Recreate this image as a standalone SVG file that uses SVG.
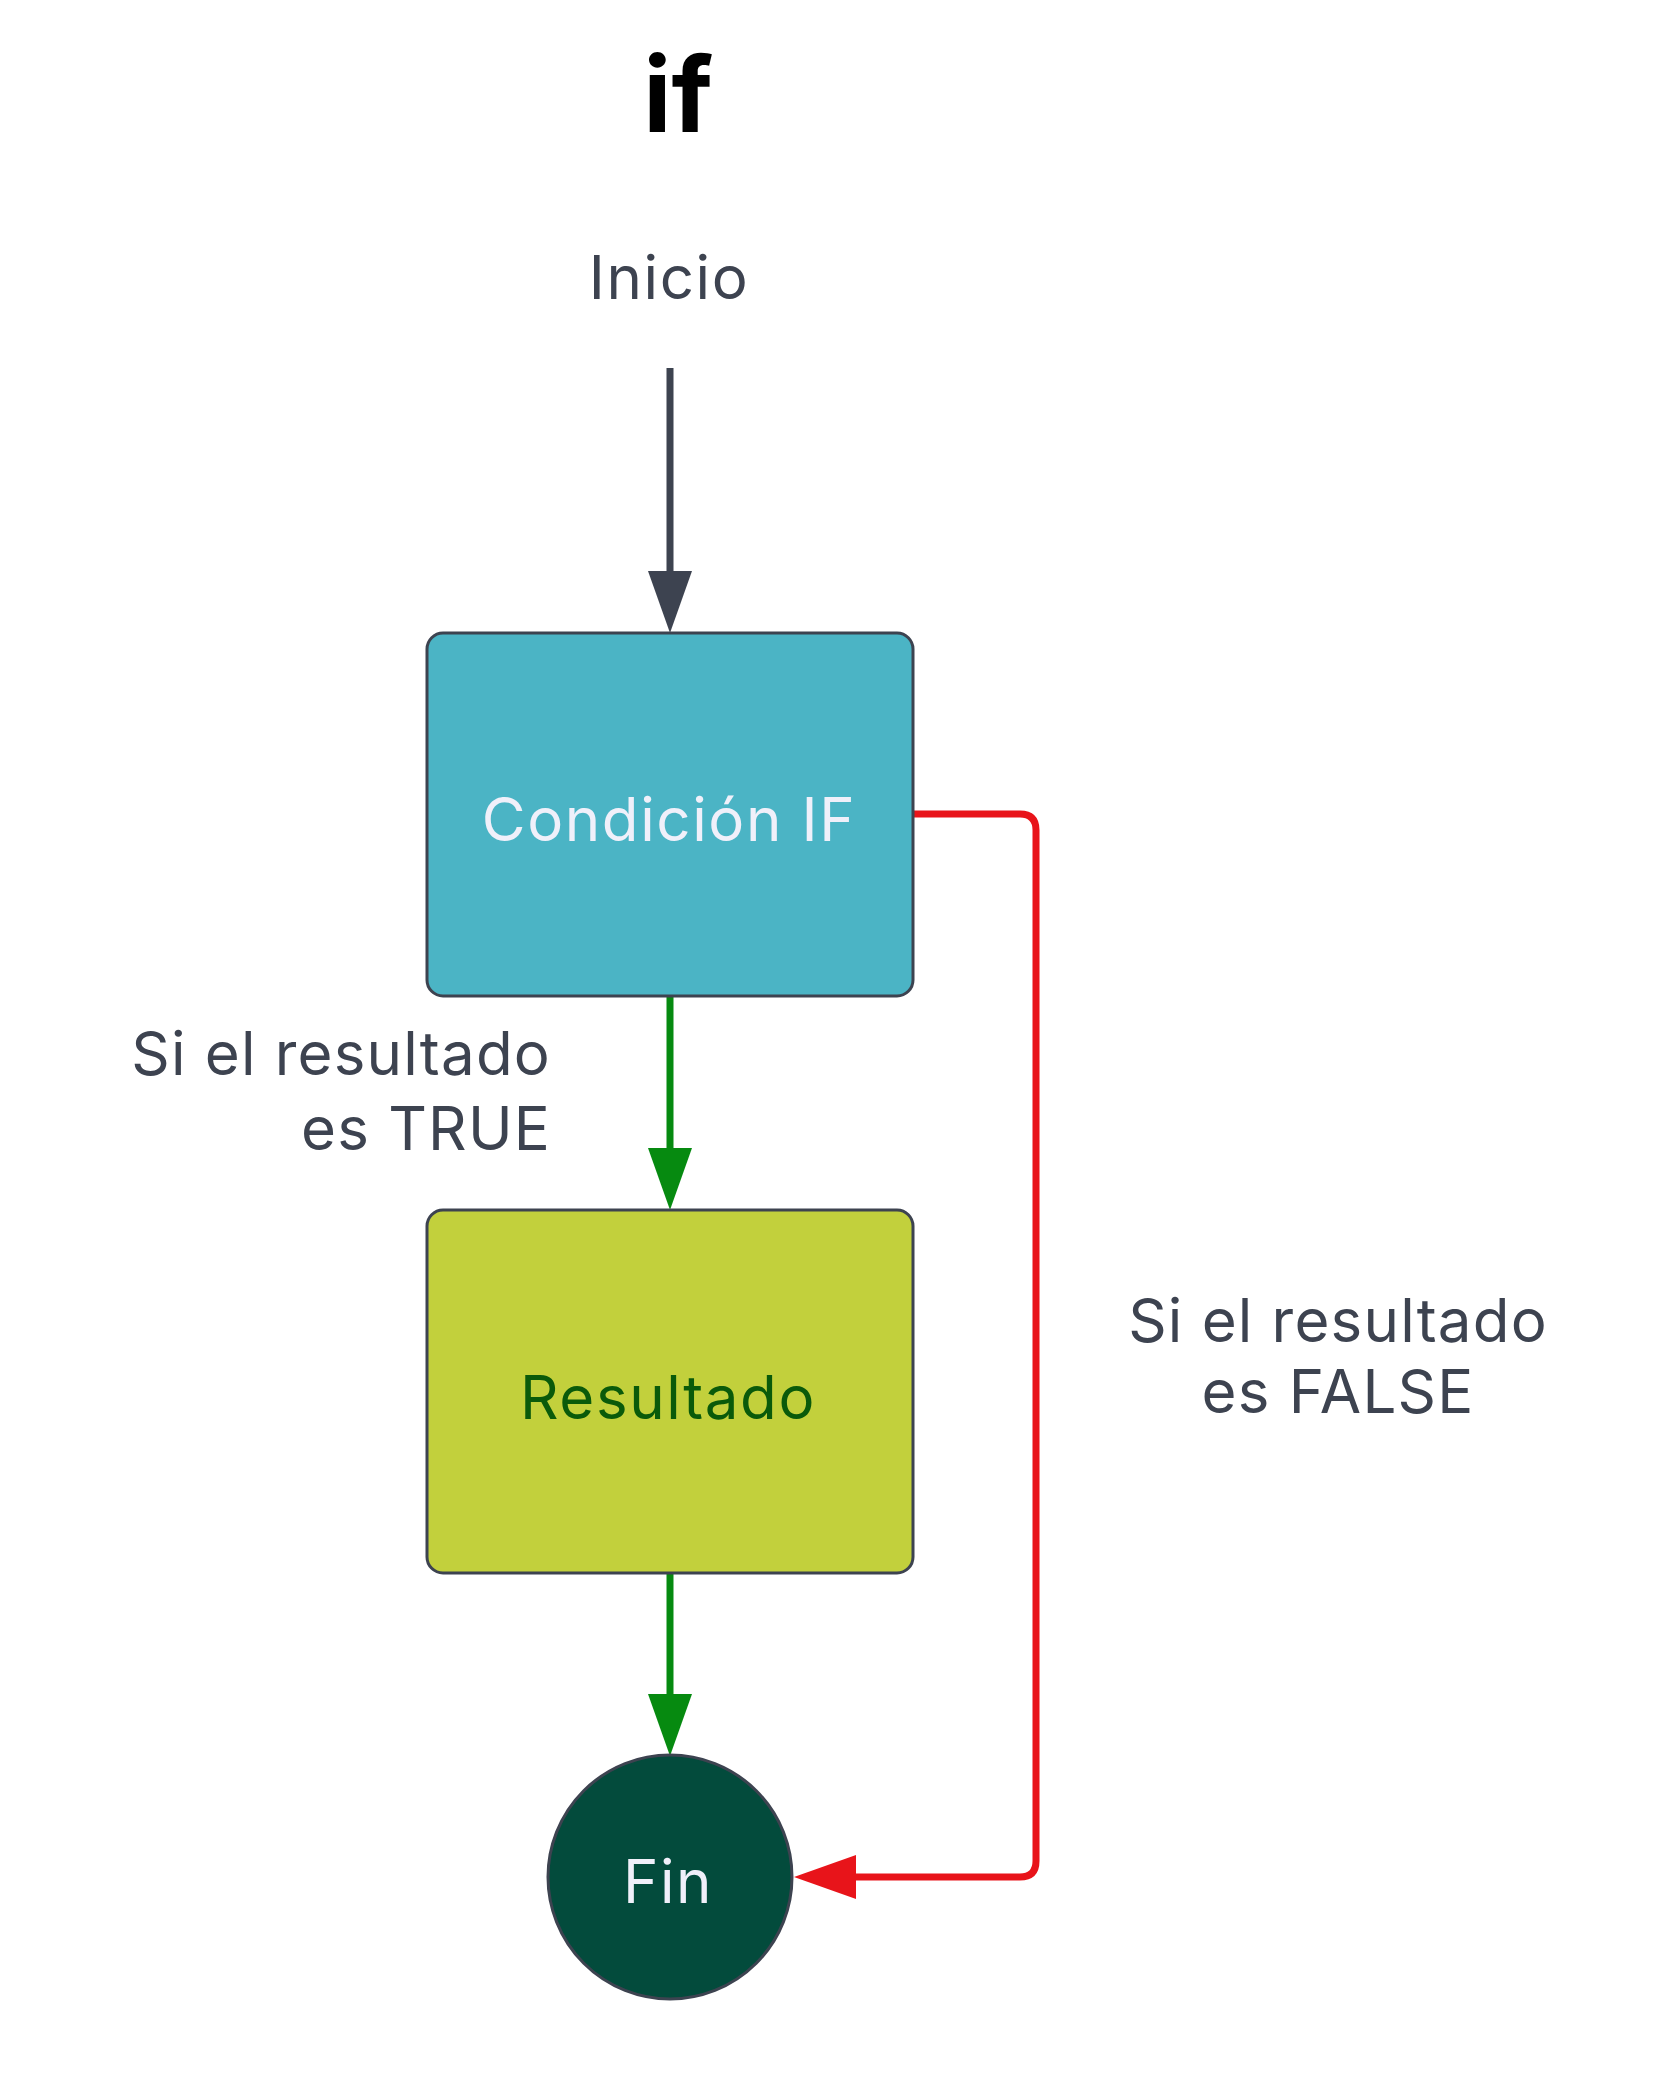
<svg xmlns="http://www.w3.org/2000/svg" width="1654" height="2085" viewBox="0 0 1654 2085">
  <style>
    .lbl { font-family: Inter, "Noto Sans", "Liberation Sans", sans-serif; font-size: 60px; fill: #3d4350; letter-spacing: 1.2px; }
    .node { stroke: #3d4350; stroke-width: 3; }
    .ntxt { font-family: Inter, "Noto Sans", "Liberation Sans", sans-serif; font-size: 60px; text-anchor: middle; letter-spacing: 1.6px; }
    .conn { fill: none; stroke-width: 7; }
  </style>
  <defs>
    <marker id="ahDark" markerUnits="userSpaceOnUse" markerWidth="64" markerHeight="44" refX="0" refY="22" orient="auto">
      <path d="M0,0 L62,22 L0,44 z" fill="#3d4350"/>
    </marker>
    <marker id="ahGreen" markerUnits="userSpaceOnUse" markerWidth="64" markerHeight="44" refX="0" refY="22" orient="auto">
      <path d="M0,0 L62,22 L0,44 z" fill="#068a10"/>
    </marker>
    <marker id="ahRed" markerUnits="userSpaceOnUse" markerWidth="64" markerHeight="44" refX="0" refY="22" orient="auto">
      <path d="M0,0 L62,22 L0,44 z" fill="#e8141a"/>
    </marker>
  </defs>
  <rect width="1654" height="2085" fill="#ffffff"/>

  <text x="678" y="132" font-family="Inter, 'Noto Sans', 'Liberation Sans', sans-serif" font-size="104" font-weight="700" text-anchor="middle" fill="#000000">if</text>

  <g id="connectors">
    <path class="conn" d="M670,368 V571" stroke="#3d4350" stroke-width="9" marker-end="url(#ahDark)"/>
    <path class="conn" d="M670,996 V1148" stroke="#068a10" marker-end="url(#ahGreen)"/>
    <path class="conn" d="M670,1573 V1694" stroke="#068a10" marker-end="url(#ahGreen)"/>
    <path class="conn" d="M913,814 H1020 Q1036,814 1036,830 V1861 Q1036,1877 1020,1877 H856" stroke="#e8141a" marker-end="url(#ahRed)"/>
  </g>

  <g id="inicio">
    <text class="ntxt" x="669" y="299" fill="#3d4350">Inicio</text>
  </g>

  <g id="condicion">
    <rect class="node" x="427" y="633" width="486" height="363" rx="16" fill="#4bb4c5"/>
    <text class="ntxt" x="669" y="841" fill="#f0f0fa">Condición IF</text>
  </g>

  <g id="resultado">
    <rect class="node" x="427" y="1210" width="486" height="363" rx="16" fill="#c2d03c"/>
    <text class="ntxt" x="668" y="1419" fill="#0a5a0a">Resultado</text>
  </g>

  <g id="fin">
    <circle class="node" cx="670" cy="1877" r="122" fill="#034b3c"/>
    <text class="ntxt" x="668" y="1903" fill="#f0f0fa">Fin</text>
  </g>

  <g id="label-true">
    <text class="lbl" x="551" y="1075" text-anchor="end">Si el resultado</text>
    <text class="lbl" x="551" y="1150" text-anchor="end">es TRUE</text>
  </g>

  <g id="label-false">
    <text class="lbl" x="1338" y="1342" text-anchor="middle">Si el resultado</text>
    <text class="lbl" x="1338" y="1413" text-anchor="middle">es FALSE</text>
  </g>
</svg>
